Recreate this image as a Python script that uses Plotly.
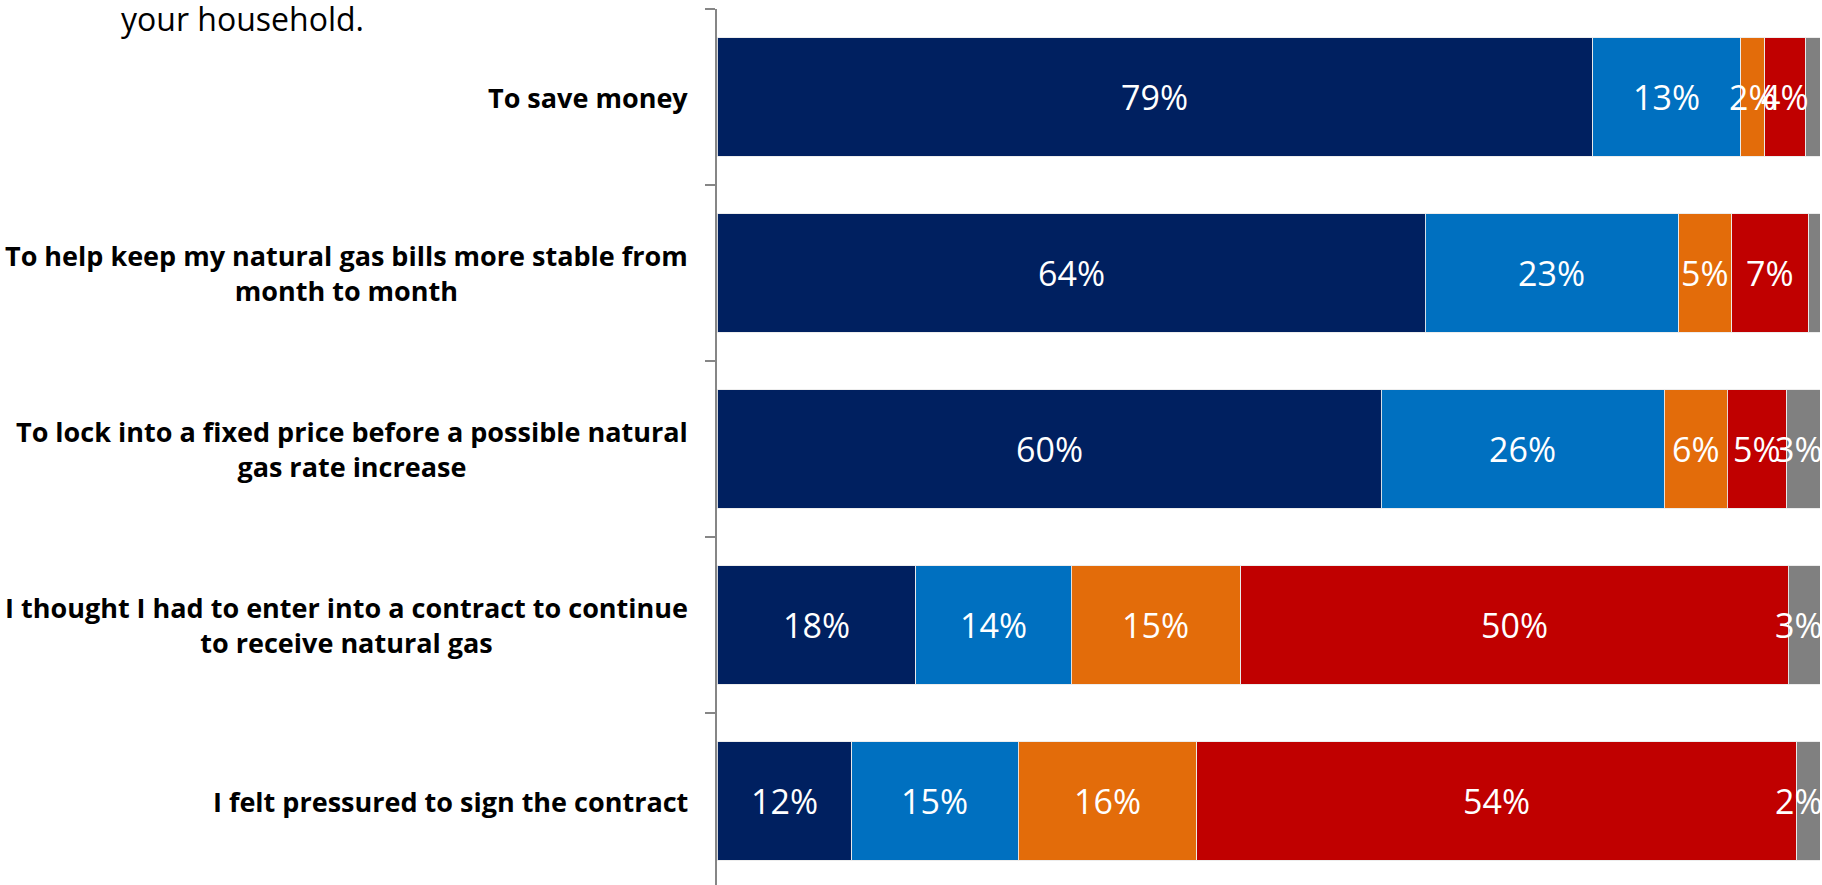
import plotly.graph_objects as go

# Reasons for signing the contract (top to bottom)
categories = [
    "To save money",
    "To help keep my natural gas bills more stable from<br>month to month",
    "To lock into a fixed price before a possible natural<br>gas rate increase",
    "I thought I had to enter into a contract to continue<br>to receive natural gas",
    "I felt pressured to sign the contract",
]

# Share of respondents per response level (%)
very_important = [79.4, 64.2, 60.2, 18.0, 12.2]
somewhat_important = [13.4, 23.0, 25.7, 14.1, 15.1]
not_very_important = [2.2, 4.8, 5.7, 15.4, 16.2]
not_at_all_important = [3.7, 7.0, 5.4, 49.6, 54.4]
dont_know = [1.3, 1.0, 3.0, 2.9, 2.1]

series = [
    ("Very important", very_important, "#002060"),
    ("Somewhat important", somewhat_important, "#0070C0"),
    ("Not very important", not_very_important, "#E36C0A"),
    ("Not at all important", not_at_all_important, "#C00000"),
    ("Don't know", dont_know, "#808080"),
]

W, H = 1822, 885
L, R, T, B = 717, 2, 9, 0
PW, PH = W - L - R, H - T - B
BAND = 176  # pixels per category row


def paper_x(px):
    return (px - L) / PW


def paper_y(py):
    return 1 - (py - T) / PH


fig = go.Figure()
for name, vals, color in series:
    fig.add_trace(go.Bar(
        y=categories,
        x=vals,
        name=name,
        orientation="h",
        marker=dict(color=color, line=dict(color="rgba(235,235,235,0.9)", width=1)),
        hoverinfo="skip",
    ))

# value labels centred on each segment, kept inside the plot on the right
starts = [0.0] * len(categories)
for name, vals, color in series:
    for i, (cat, v) in enumerate(zip(categories, vals)):
        mid = starts[i] + v / 2
        starts[i] += v
        if v < 1.5:
            continue
        fig.add_annotation(
            text=f"{v:.0f}%",
            x=min(mid, 98.1), xref="x", xanchor="center",
            y=cat, yref="y", yanchor="middle",
            showarrow=False,
            font=dict(family="Open Sans", size=34, color="white"),
        )

# category labels, centred lines, right edge just left of the axis
for cat in categories:
    fig.add_annotation(
        text=cat,
        xref="paper", x=paper_x(690), xanchor="right",
        yref="y", y=cat, yanchor="middle",
        align="center",
        showarrow=False,
        font=dict(family="Open Sans", size=27, color="black", weight="bold"),
    )

# tail of the chart heading
fig.add_annotation(
    text="your household.",
    xref="paper", x=paper_x(119), xanchor="left",
    yref="paper", y=paper_y(18), yanchor="middle",
    showarrow=False,
    font=dict(family="Open Sans", size=32, color="black"),
)

fig.update_layout(
    width=W, height=H,
    margin=dict(l=L, r=R, t=T, b=B),
    barmode="stack",
    bargap=0.324,
    showlegend=False,
    plot_bgcolor="white",
    paper_bgcolor="white",
    xaxis=dict(range=[0, 100], visible=False, fixedrange=True),
    yaxis=dict(
        type="category",
        range=[-0.5 + PH / BAND, -0.5],
        showline=True, linecolor="#868686", linewidth=2,
        ticks="outside", ticklen=10, tickwidth=2, tickcolor="#868686",
        tickson="boundaries",
        showticklabels=False, showgrid=False,
        fixedrange=True,
    ),
)

fig.write_html("out.html")
